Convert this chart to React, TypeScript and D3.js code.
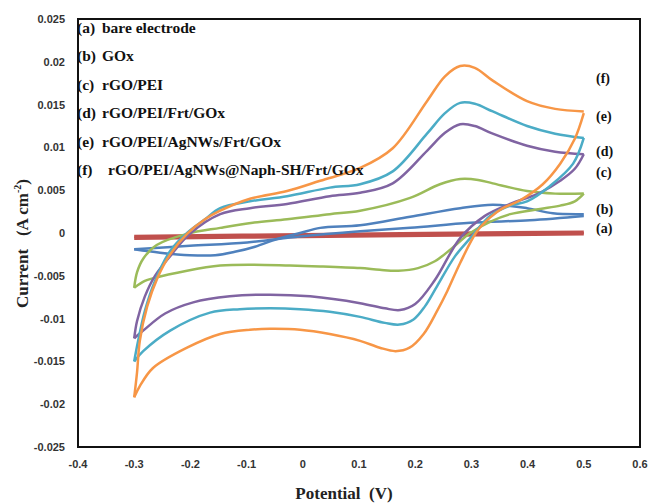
import * as d3 from "d3";

type Pt = [number, number];

// axis ticks
const xTickValues = [-0.4, -0.3, -0.2, -0.1, 0, 0.1, 0.2, 0.3, 0.4, 0.5, 0.6];
const xTickLabels = ["-0.4", "-0.3", "-0.2", "-0.1", "0", "0.1", "0.2", "0.3", "0.4", "0.5", "0.6"];
const yTickValues = [0.025, 0.02, 0.015, 0.01, 0.005, 0, -0.005, -0.01, -0.015, -0.02, -0.025];
const yTickLabels = ["0.025", "0.02", "0.015", "0.01", "0.005", "0", "-0.005", "-0.01", "-0.015", "-0.02", "-0.025"];

const legendTags = ["(a)", "(b)", "(c)", "(d)", "(e)", "(f)"];
const legendNames = [
  "bare electrode",
  "GOx",
  "rGO/PEI",
  "rGO/PEI/Frt/GOx",
  "rGO/PEI/AgNWs/Frt/GOx",
  "rGO/PEI/AgNWs@Naph-SH/Frt/GOx",
];

// (a) bare electrode
const aUpper: Pt[] = [[-0.3, -0.0004], [0.0, -0.0002], [0.5, 0.0001]];
const aLower: Pt[] = [[-0.3, -0.0006], [0.0, -0.0004], [0.5, -0.0001]];

// (b) GOx
const bUpper: Pt[] = [
  [-0.3, -0.0019], [-0.254, -0.0023], [-0.201, -0.0026], [-0.156, -0.0026], [-0.121, -0.0022],
  [-0.085, -0.0016], [-0.046, -0.0007], [-0.005, 0.0], [0.031, 0.0006], [0.102, 0.0009],
  [0.191, 0.0019], [0.28, 0.0029], [0.338, 0.0033], [0.399, 0.0029], [0.445, 0.0023], [0.5, 0.0022],
];
const bLower: Pt[] = [
  [-0.3, -0.0019], [-0.201, -0.0015], [-0.099, -0.0011], [-0.005, -0.0004], [0.102, 0.0002],
  [0.191, 0.0006], [0.298, 0.0012], [0.404, 0.0015], [0.5, 0.002],
];

// (c) rGO/PEI
const cUpper: Pt[] = [
  [-0.3, -0.0064], [-0.295, -0.0046], [-0.284, -0.003], [-0.26, -0.0014], [-0.206, -0.0001],
  [-0.147, 0.0006], [-0.089, 0.0012], [-0.028, 0.0016], [0.048, 0.0022], [0.102, 0.0026],
  [0.191, 0.0041], [0.244, 0.0057], [0.28, 0.0063], [0.312, 0.0062], [0.338, 0.0058],
  [0.399, 0.0049], [0.449, 0.0046], [0.5, 0.0046],
];
const cLower: Pt[] = [
  [-0.3, -0.0064], [-0.281, -0.0056], [-0.267, -0.0053], [-0.206, -0.0044], [-0.147, -0.0038],
  [-0.089, -0.0037], [-0.023, -0.0038], [0.031, -0.0039], [0.102, -0.0041], [0.137, -0.0043],
  [0.17, -0.0044], [0.205, -0.0041], [0.235, -0.0033], [0.265, -0.0018], [0.298, 0.0],
  [0.333, 0.0013], [0.369, 0.0022], [0.422, 0.0028], [0.458, 0.0032], [0.484, 0.0037], [0.5, 0.0046],
];

// (d) rGO/PEI/Frt/GOx
const dUpper: Pt[] = [
  [-0.3, -0.0123], [-0.295, -0.0103], [-0.281, -0.0074], [-0.263, -0.005], [-0.236, -0.0027],
  [-0.201, -0.0001], [-0.147, 0.0022], [-0.094, 0.0029], [-0.028, 0.0034], [0.048, 0.0043],
  [0.102, 0.0047], [0.16, 0.0058], [0.221, 0.0096], [0.253, 0.0117], [0.28, 0.0127],
  [0.306, 0.0125], [0.338, 0.0116], [0.399, 0.0102], [0.449, 0.0095], [0.5, 0.0092],
];
const dLower: Pt[] = [
  [-0.3, -0.0123], [-0.284, -0.0114], [-0.245, -0.0094], [-0.195, -0.0081], [-0.13, -0.0074],
  [-0.058, -0.0072], [0.013, -0.0074], [0.102, -0.0082], [0.146, -0.0088], [0.173, -0.009],
  [0.2, -0.0083], [0.235, -0.0055], [0.28, -0.0006], [0.324, 0.002], [0.369, 0.0034],
  [0.422, 0.0047], [0.458, 0.0061], [0.484, 0.0075], [0.5, 0.0092],
];

// (e) rGO/PEI/AgNWs/Frt/GOx
const eUpper: Pt[] = [
  [-0.3, -0.015], [-0.293, -0.0126], [-0.281, -0.0091], [-0.263, -0.0056], [-0.236, -0.0021],
  [-0.206, 0.0], [-0.174, 0.0016], [-0.147, 0.0029], [-0.094, 0.0037], [-0.028, 0.0043],
  [0.048, 0.0053], [0.102, 0.0057], [0.16, 0.0072], [0.221, 0.0116], [0.253, 0.014],
  [0.28, 0.0152], [0.306, 0.0151], [0.338, 0.0142], [0.399, 0.0125], [0.449, 0.0116], [0.5, 0.0111],
];
const eLower: Pt[] = [
  [-0.3, -0.015], [-0.284, -0.0138], [-0.236, -0.0114], [-0.165, -0.0093], [-0.112, -0.0089],
  [-0.058, -0.0088], [-0.005, -0.0089], [0.048, -0.0092], [0.102, -0.0098], [0.146, -0.0105],
  [0.172, -0.0107], [0.197, -0.0101], [0.217, -0.0086], [0.239, -0.0062], [0.271, -0.0027],
  [0.298, -0.0006], [0.333, 0.002], [0.369, 0.0032], [0.399, 0.0037], [0.44, 0.0055],
  [0.481, 0.0081], [0.5, 0.0111],
];

// (f) rGO/PEI/AgNWs@Naph-SH/Frt/GOx
const fUpper: Pt[] = [
  [-0.3, -0.0192], [-0.295, -0.0163], [-0.29, -0.0126], [-0.277, -0.0086], [-0.259, -0.0053],
  [-0.236, -0.0025], [-0.206, -0.0001], [-0.174, 0.0016], [-0.147, 0.0026], [-0.094, 0.004],
  [-0.028, 0.0049], [0.031, 0.0061], [0.102, 0.0076], [0.16, 0.0099], [0.221, 0.0154],
  [0.253, 0.0183], [0.28, 0.0195], [0.306, 0.0193], [0.338, 0.0178], [0.399, 0.0154],
  [0.449, 0.0145], [0.5, 0.0142],
];
const fLower: Pt[] = [
  [-0.3, -0.0192], [-0.29, -0.0179], [-0.267, -0.0158], [-0.206, -0.0134], [-0.147, -0.0118],
  [-0.094, -0.0113], [-0.058, -0.0112], [-0.005, -0.0113], [0.048, -0.0118], [0.102, -0.0126],
  [0.137, -0.0134], [0.165, -0.0138], [0.19, -0.0134], [0.215, -0.0118], [0.239, -0.0091],
  [0.257, -0.0068], [0.28, -0.0035], [0.31, 0.0002], [0.333, 0.0018], [0.356, 0.0029],
  [0.386, 0.0038], [0.427, 0.0057], [0.458, 0.0081], [0.484, 0.011], [0.5, 0.014],
];

const seriesUpper = [aUpper, bUpper, cUpper, dUpper, eUpper, fUpper];
const seriesLower = [aLower, bLower, cLower, dLower, eLower, fLower];

const colors = ["#c0504d", "#4f81bd", "#9bbb59", "#8064a2", "#4bacc6", "#f79646"];
const widths = [3.5, 2.5, 2.5, 2.5, 2.5, 2.5];

// right-hand curve tags (pixel y of their centre)
const tagY = [228, 209, 172, 151, 116, 78];

const serif = "'Liberation Serif', 'Times New Roman', serif";
const sans = "'Liberation Sans', Arial, sans-serif";

export default function App() {
  const W = 648;
  const H = 504;
  const x = d3.scaleLinear().domain([-0.4, 0.6]).range([78, 640]);
  const y = d3.scaleLinear().domain([-0.025, 0.025]).range([447, 19]);

  const line = d3
    .line<Pt>()
    .x((d) => x(d[0]))
    .y((d) => y(d[1]))
    .curve(d3.curveCatmullRom.alpha(0.5));

  return (
    <svg
      width={W}
      height={H}
      style={{ position: "absolute", left: 0, top: 0, background: "#fff" }}
    >
      <rect x={0} y={0} width={W} height={H} fill="#fff" />

      {/* curves */}
      {seriesUpper.map((up, i) => (
        <g key={i} fill="none" stroke={colors[i]} strokeWidth={widths[i]} strokeLinejoin="round">
          <path d={line(up) || ""} />
          <path d={line(seriesLower[i]) || ""} />
        </g>
      ))}

      {/* frame */}
      <rect
        x={x(-0.4)}
        y={y(0.025)}
        width={x(0.6) - x(-0.4)}
        height={y(-0.025) - y(0.025)}
        fill="none"
        stroke="#111"
        strokeWidth={2}
      />

      {/* y tick labels */}
      {yTickValues.map((v, i) => (
        <text
          key={"y" + i}
          x={65}
          y={y(v) + 4}
          textAnchor="end"
          fontFamily={sans}
          fontWeight="bold"
          fontSize={11}
          fill="#333"
        >
          {yTickLabels[i]}
        </text>
      ))}

      {/* x tick labels */}
      {xTickValues.map((v, i) => (
        <text
          key={"x" + i}
          x={x(v)}
          y={468}
          textAnchor="middle"
          fontFamily={sans}
          fontWeight="bold"
          fontSize={11}
          fill="#333"
        >
          {xTickLabels[i]}
        </text>
      ))}

      {/* axis titles */}
      <text
        x={344}
        y={499}
        textAnchor="middle"
        fontFamily={serif}
        fontWeight="bold"
        fontSize={17}
        fill="#222"
        style={{ whiteSpace: "pre" }}
      >
        {"Potential  (V)"}
      </text>
      <text
        transform="translate(28,308) rotate(-90)"
        textAnchor="start"
        fontFamily={serif}
        fontWeight="bold"
        fontSize={17}
        fill="#222"
        style={{ whiteSpace: "pre" }}
      >
        {"Current   (A cm"}
        <tspan fontSize={10} dy={-7}>-2</tspan>
        <tspan dy={7}>)</tspan>
      </text>

      {/* legend text */}
      {legendTags.map((t, i) => (
        <g key={"l" + i} fontFamily={serif} fontWeight="bold" fontSize={15.5} fill="#111">
          <text x={77} y={33 + i * 28.4}>{t}</text>
          <text x={i === 5 ? 108 : 102} y={33 + i * 28.4}>{legendNames[i]}</text>
        </g>
      ))}

      {/* curve tags at right */}
      {legendTags.map((t, i) => (
        <text
          key={"t" + i}
          x={596}
          y={tagY[i] + 5}
          fontFamily={serif}
          fontWeight="bold"
          fontSize={14}
          fill="#111"
        >
          {t}
        </text>
      ))}
    </svg>
  );
}
